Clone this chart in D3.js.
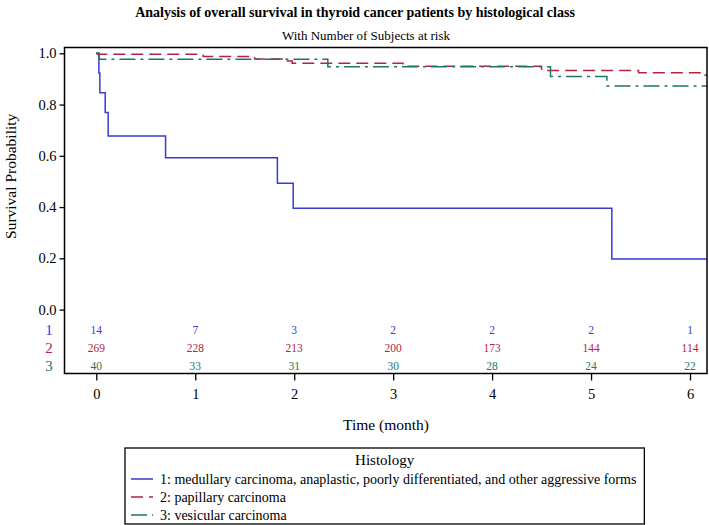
<!DOCTYPE html>
<html>
<head>
<meta charset="utf-8">
<script src="https://cdn.jsdelivr.net/npm/d3@7"></script>
<style>
    body { margin: 0; background: #fff; }
    text { font-family: "Liberation Serif", "DejaVu Serif", serif; }
</style>
</head>
<body>
<div id="chart"></div>
<script>
// Kaplan-Meier steps (time in months, survival)
const groups = ["1", "2", "3"];
const groupNames = [
    "1: medullary carcinoma, anaplastic, poorly differentiated, and other aggressive forms",
    "2: papillary carcinoma",
    "3: vesicular carcinoma",
];
const groupColors = ["#3a3ad4", "#b4233f", "#1d7767"];
const groupDash = [null, "12,6", "16,5,3,5"];

const timesG1 = [0, 0.026, 0.036, 0.09, 0.12, 0.70, 1.83, 1.99, 5.21, 6.17];
const survG1 = [1, 0.923, 0.846, 0.769, 0.677, 0.592, 0.493, 0.395, 0.197, 0.197];

const timesG2 = [0, 0.01, 1.08, 1.6, 1.88, 1.98, 3.1, 4.5, 5.48, 6.15, 6.17];
const survG2 = [1, 0.996, 0.988, 0.978, 0.97, 0.961, 0.949, 0.933, 0.924, 0.915, 0.915];

const timesG3 = [0, 0.03, 2.34, 4.59, 5.16, 6.17];
const survG3 = [1, 0.977, 0.948, 0.909, 0.872, 0.872];

// number of subjects at risk at each month
const riskTimes = [0, 1, 2, 3, 4, 5, 6];
const riskG1 = [14, 7, 3, 2, 2, 2, 1];
const riskG2 = [269, 228, 213, 200, 173, 144, 114];
const riskG3 = [40, 33, 31, 30, 28, 24, 22];

const yTicks = [0, 0.2, 0.4, 0.6, 0.8, 1.0];

const W = 709, H = 525;
const frame = { left: 64.5, right: 707, top: 47.5, bottom: 373.5 };

const svg = d3.select("#chart")
    .append("svg")
    .attr("width", W)
    .attr("height", H);

const x = d3.scaleLinear().domain([0, 6]).range([96.3, 690]);
const y = d3.scaleLinear().domain([0, 1]).range([309.6, 53.3]);

// titles
svg.append("text")
    .attr("x", 355)
    .attr("y", 17)
    .attr("text-anchor", "middle")
    .style("font-weight", "bold")
    .style("font-size", "14px")
    .text("Analysis of overall survival in thyroid cancer patients by histological class");

svg.append("text")
    .attr("x", 366)
    .attr("y", 40)
    .attr("text-anchor", "middle")
    .style("font-size", "13px")
    .text("With Number of Subjects at risk");

// y axis (ticks + labels), drawn on the left frame edge
const yAxis = d3.axisLeft(y)
    .tickValues(yTicks)
    .tickFormat(d3.format(".1f"))
    .tickSize(5)
    .tickPadding(3);

const gy = svg.append("g")
    .attr("transform", `translate(${frame.left},0)`)
    .call(yAxis);
gy.select(".domain").remove();
gy.selectAll("line").attr("stroke", "#000").attr("stroke-width", 1.3);
gy.selectAll("text")
    .style("font-family", "Liberation Serif")
    .style("font-size", "14.5px")
    .attr("fill", "#000");

// x axis below the frame
const xAxis = d3.axisBottom(x)
    .tickValues(riskTimes)
    .tickFormat(d3.format("d"))
    .tickSize(7)
    .tickPadding(8);

const gx = svg.append("g")
    .attr("transform", `translate(0,${frame.bottom})`)
    .call(xAxis);
gx.select(".domain").remove();
gx.selectAll("line").attr("stroke", "#000").attr("stroke-width", 1.3);
gx.selectAll("text")
    .style("font-family", "Liberation Serif")
    .style("font-size", "14.5px")
    .attr("fill", "#000");

// axis labels
svg.append("text")
    .attr("transform", `translate(16,${y(0.52)}) rotate(-90)`)
    .attr("text-anchor", "middle")
    .style("font-size", "15.5px")
    .text("Survival Probability");

svg.append("text")
    .attr("x", 386)
    .attr("y", 430)
    .attr("text-anchor", "middle")
    .style("font-size", "15.5px")
    .text("Time (month)");

// survival curves
const curves = [
    timesG1.map((t, i) => [t, survG1[i]]),
    timesG2.map((t, i) => [t, survG2[i]]),
    timesG3.map((t, i) => [t, survG3[i]]),
];

const line = d3.line()
    .x(d => x(d[0]))
    .y(d => y(d[1]))
    .curve(d3.curveStepAfter);

svg.append("g")
    .selectAll("path")
    .data(curves)
    .enter()
    .append("path")
    .attr("d", line)
    .attr("fill", "none")
    .attr("stroke", (d, i) => groupColors[i])
    .attr("stroke-width", 1.5)
    .attr("stroke-dasharray", (d, i) => groupDash[i]);

// at-risk table inside the frame
const riskRows = [riskG1, riskG2, riskG3];
const rowY = [329.5, 347.5, 365.5];

riskRows.forEach((row, r) => {
    svg.append("text")
        .attr("x", 49)
        .attr("y", rowY[r])
        .attr("dy", "0.35em")
        .attr("text-anchor", "middle")
        .attr("fill", groupColors[r])
        .style("font-size", "15px")
        .text(groups[r]);

    svg.append("g")
        .selectAll("text")
        .data(row)
        .enter()
        .append("text")
        .attr("x", (d, i) => x(riskTimes[i]))
        .attr("y", rowY[r])
        .attr("dy", "0.35em")
        .attr("text-anchor", "middle")
        .attr("fill", groupColors[r])
        .style("font-size", "11.5px")
        .text(d => d);
});

// frame
svg.append("rect")
    .attr("x", frame.left)
    .attr("y", frame.top)
    .attr("width", frame.right - frame.left)
    .attr("height", frame.bottom - frame.top)
    .attr("fill", "none")
    .attr("stroke", "#000")
    .attr("stroke-width", 1.5);

// legend
const legend = svg.append("g");
const legLeft = 125, legTop = 448, legBottom = 524;
const rowBase = [483.5, 501.5, 519.5];

const legText = legend.selectAll("text.item")
    .data(groupNames)
    .enter()
    .append("text")
    .attr("class", "item")
    .attr("x", 160)
    .attr("y", (d, i) => rowBase[i])
    .style("font-size", "14px")
    .text(d => d);

legend.selectAll("line")
    .data(groupNames)
    .enter()
    .append("line")
    .attr("x1", 131)
    .attr("x2", 153)
    .attr("y1", (d, i) => rowBase[i] - 4.5)
    .attr("y2", (d, i) => rowBase[i] - 4.5)
    .attr("stroke", (d, i) => groupColors[i])
    .attr("stroke-width", 1.5)
    .attr("stroke-dasharray", (d, i) => groupDash[i]);

var maxW = 0;
legText.each(function () {
    maxW = Math.max(maxW, this.getComputedTextLength());
});
const legRight = 160 + maxW + 8;

legend.append("rect")
    .attr("x", legLeft)
    .attr("y", legTop)
    .attr("width", legRight - legLeft)
    .attr("height", legBottom - legTop)
    .attr("fill", "none")
    .attr("stroke", "#000")
    .attr("stroke-width", 1.3);

legend.append("text")
    .attr("x", (legLeft + legRight) / 2)
    .attr("y", 465)
    .attr("text-anchor", "middle")
    .style("font-size", "15px")
    .text("Histology");
</script>
</body>
</html>
